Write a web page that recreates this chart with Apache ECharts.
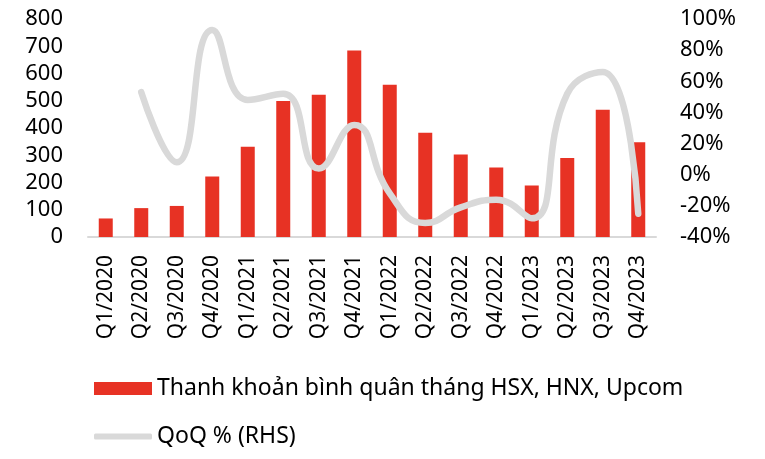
<!DOCTYPE html>
<html>
<head>
<meta charset="utf-8">
<script src="https://cdn.jsdelivr.net/npm/echarts@6/dist/echarts.min.js"></script>
<style>
  html, body { margin: 0; padding: 0; background: #fff; }
  #chart { width: 765px; height: 459px; }
</style>
</head>
<body>
<div id="chart"></div>
<script>
// quý
var quarters = ['Q1/2020', 'Q2/2020', 'Q3/2020', 'Q4/2020',
  'Q1/2021', 'Q2/2021', 'Q3/2021', 'Q4/2021',
  'Q1/2022', 'Q2/2022', 'Q3/2022', 'Q4/2022',
  'Q1/2023', 'Q2/2023', 'Q3/2023', 'Q4/2023'];
// thanh khoản bình quân tháng
var liquidity = [68, 106, 114, 222, 331, 499, 522, 684, 559, 383, 303, 255, 189, 290, 467, 348];
// QoQ % (RHS)
var qoq = [null, 53, 8, 93, 48, 52, 4, 32, -12, -31, -21, -16, -28, 52, 66, -25];

var barName = 'Thanh khoản bình quân tháng HSX, HNX, Upcom';
var lineName = 'QoQ % (RHS)';
var font = 'Noto Sans';

var myChart = echarts.init(document.getElementById('chart'));
var option = {
  animation: false,
  grid: { left: 88, right: 109, top: 19, bottom: 222 },
  legend: [{
    left: 94, top: 377, padding: 0,
    itemWidth: 58, itemHeight: 13,
    icon: 'rect',
    textStyle: { fontFamily: font, fontSize: 23, color: '#000' },
    data: [barName]
  }, {
    left: 94, top: 425, padding: 0,
    itemWidth: 58, itemHeight: 6,
    icon: 'roundRect',
    textStyle: { fontFamily: font, fontSize: 23, color: '#000' },
    data: [{ name: lineName, itemStyle: { color: '#d9d9d9' } }]
  }],
  xAxis: {
    type: 'category',
    data: quarters,
    axisLine: { lineStyle: { color: '#d9d9d9', width: 2 } },
    axisTick: { show: false },
    axisLabel: { rotate: 90, margin: 18, fontFamily: font, fontSize: 21, color: '#000', interval: 0 }
  },
  yAxis: [{
    type: 'value', min: 0, max: 800, interval: 100,
    splitLine: { show: false },
    axisLabel: { margin: 25, fontFamily: font, fontSize: 22, color: '#000' }
  }, {
    type: 'value', min: -40, max: 100, interval: 20,
    splitLine: { show: false },
    axisLabel: { margin: 24, fontFamily: font, fontSize: 22, color: '#000', formatter: '{value}%' }
  }],
  series: [{
    name: barName,
    type: 'bar',
    data: liquidity,
    barWidth: 14,
    itemStyle: { color: '#e73224' }
  }, {
    name: lineName,
    type: 'line',
    yAxisIndex: 1,
    data: qoq,
    smooth: 0.5,
    showSymbol: false,
    lineStyle: { color: '#d9d9d9', width: 6.5, cap: 'round' },
    itemStyle: { color: '#d9d9d9' }
  }]
};
if (option && typeof option === 'object') {
  myChart.setOption(option, true);
}
</script>
</body>
</html>
